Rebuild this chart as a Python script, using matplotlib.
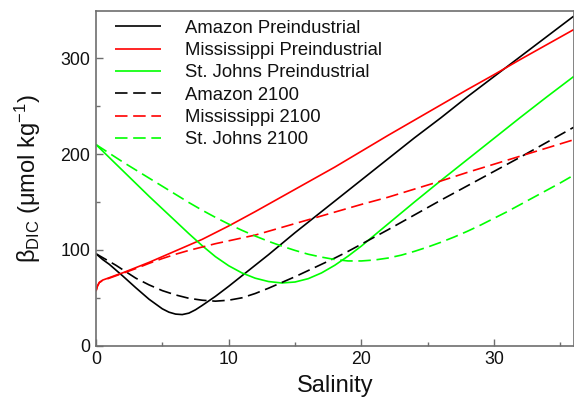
import matplotlib
matplotlib.use("Agg")
import matplotlib.pyplot as plt

plt.rcParams['font.family'] = ['Liberation Sans', 'DejaVu Sans']
plt.rcParams['mathtext.fontset'] = 'custom'
plt.rcParams['mathtext.rm'] = 'Liberation Sans'
plt.rcParams['mathtext.it'] = 'Liberation Sans:italic'
plt.rcParams['mathtext.bf'] = 'Liberation Sans:bold'
plt.rcParams['mathtext.default'] = 'regular'

# ---- data ----
amazon_pi_s = [0, 0.5, 1, 1.5, 2, 3, 4, 5, 5.5, 6, 6.5, 7, 7.5, 8, 9, 10, 11, 12, 13, 14, 15, 16, 17, 18, 19, 20,
               22, 24, 26, 28, 30, 32, 34, 36]
amazon_pi_b = [96, 90, 85, 79, 73, 60.5, 48.5, 38.5, 35, 33, 32.5, 34, 37.5, 42, 51.5, 62, 73, 84, 95, 106.5, 118,
               129, 140, 151, 162, 173, 195, 217, 238, 260, 281, 302, 323, 344]

miss_pi_s = [0, 0.1, 0.25, 0.5, 1, 1.5, 2, 3, 4, 5, 6, 7, 8, 9, 10, 11, 12, 14, 16, 18, 20, 22, 24, 26, 28, 30,
             32, 34, 36]
miss_pi_b = [57, 62, 66, 68.5, 71, 73.6, 76, 81.5, 87, 93, 99, 105, 111, 118, 125, 132.5, 140, 155.5, 171, 186.5,
             203, 219.5, 235.5, 251.5, 267.5, 283, 299, 314.5, 330]

stjohns_pi_s = [0, 1, 2, 3, 4, 5, 6, 7, 8, 9, 10, 11, 12, 13, 14, 15, 16, 17, 18, 19, 20, 21, 22, 24, 26, 28, 30,
                32, 34, 36]
stjohns_pi_b = [210, 196.5, 183, 169.5, 156, 143, 130, 117, 104.5, 93, 83.5, 76, 70.5, 67, 65.5, 66.5, 70, 76, 84,
                93.5, 104, 115.5, 127, 150, 172.5, 194.5, 216.5, 238.5, 260, 281]

amazon_2100_s = [0, 0.5, 1, 1.5, 2, 3, 4, 5, 6, 7, 8, 9, 10, 11, 12, 13, 14, 15, 16, 17, 18, 19, 20, 22, 24, 26,
                 28, 30, 32, 34, 36]
amazon_2100_b = [96, 92, 88, 84, 79.5, 70.5, 63.5, 57.5, 53, 49.5, 47.5, 46.5, 47.5, 50, 54.5, 60, 66, 72, 78.5,
                 85, 91.5, 98.5, 106, 121, 136.5, 152, 167, 182, 197, 212.5, 228]

miss_2100_s = [0, 0.1, 0.25, 0.5, 1, 1.5, 2, 3, 4, 5, 6, 7, 8, 9, 10, 11, 12, 14, 16, 18, 20, 22, 24, 26, 28, 30,
               32, 34, 36]
miss_2100_b = [57, 62, 66, 68, 70.5, 73, 75.5, 80.5, 86, 91, 95.5, 99.5, 103, 106.5, 109.5, 112.5, 115.5, 123.5,
               131.5, 139.5, 147.5, 155, 163.5, 172, 181, 189.5, 198, 206.5, 215]

stjohns_2100_s = [0, 1, 2, 3, 4, 5, 6, 7, 8, 9, 10, 11, 12, 13, 14, 15, 16, 17, 18, 19, 20, 21, 22, 23, 24, 25,
                  26, 27, 28, 29, 30, 31, 32, 33, 34, 35, 36]
stjohns_2100_b = [210, 201, 192, 183.5, 175, 166.5, 158, 149.5, 141.5, 134, 127, 120.5, 114.5, 109, 104, 99.5,
                  95.5, 92.5, 90, 88.5, 88.5, 89.5, 91.5, 94.5, 98.5, 103, 108, 113.5, 119.5, 126, 133, 140,
                  147.5, 155, 162.5, 170, 178]

labels = ["Amazon Preindustrial", "Mississippi Preindustrial", "St. Johns Preindustrial",
          "Amazon 2100", "Mississippi 2100", "St. Johns 2100"]
x_ticks = [0, 10, 20, 30]
y_ticks = [0, 100, 200, 300]

# ---- figure ----
W, H = 574, 408
fig = plt.figure(figsize=(W / 100, H / 100), dpi=100)
ax_l, ax_r, ax_t, ax_b = 96, 573.6, 10.5, 345.7
ax = fig.add_axes([ax_l / W, (H - ax_b) / H, (ax_r - ax_l) / W, (ax_b - ax_t) / H])

GREEN = '#00ff00'
lw = 1.2
dash = (7.5, 3.4)
series = [
    (amazon_pi_s, amazon_pi_b, 'black', '-'),
    (miss_pi_s, miss_pi_b, '#ff0000', '-'),
    (stjohns_pi_s, stjohns_pi_b, GREEN, '-'),
    (amazon_2100_s, amazon_2100_b, 'black', '--'),
    (miss_2100_s, miss_2100_b, '#ff0000', '--'),
    (stjohns_2100_s, stjohns_2100_b, GREEN, '--'),
]
for (s, b, c, ls), lab in zip(series, labels):
    line, = ax.plot(s, b, color=c, lw=lw, label=lab, solid_capstyle='butt', solid_joinstyle='round')
    if ls == '--':
        line.set_dashes(dash)

ax.set_xlim(0, 36)
ax.set_ylim(0, 350)
ax.set_xticks(x_ticks)
ax.set_yticks(y_ticks)
ax.set_xticks([5, 15, 25, 35], minor=True)
ax.set_yticks([50, 150, 250], minor=True)

spine_c = '#6e6e6e'
for sp in ax.spines.values():
    sp.set_color(spine_c)
    sp.set_linewidth(1.2)
ax.tick_params(which='both', direction='in', color=spine_c, width=1.0, labelsize=12.8,
               labelcolor='#111111', pad=4, top=False, right=False)
ax.tick_params(which='major', length=5)
ax.tick_params(which='minor', length=3)

ax.set_xlabel('Salinity', fontsize=17, labelpad=5, color='#111111')
ax.set_ylabel('β$_{DIC}$ (μmol kg$^{-1}$)', fontsize=17, color='#111111')
ax.yaxis.set_label_coords((42.5 - ax_l) / (ax_r - ax_l), 0.5)

leg = ax.legend(loc='upper left', bbox_to_anchor=((115 - ax_l) / (ax_r - ax_l), 0.9726),
                frameon=False, fontsize=13.3, borderpad=0, borderaxespad=0,
                handlelength=2.5, handletextpad=1.3, labelspacing=0.29)
for t in leg.get_texts():
    t.set_color('#111111')

fig.savefig('out.png', dpi=100)
